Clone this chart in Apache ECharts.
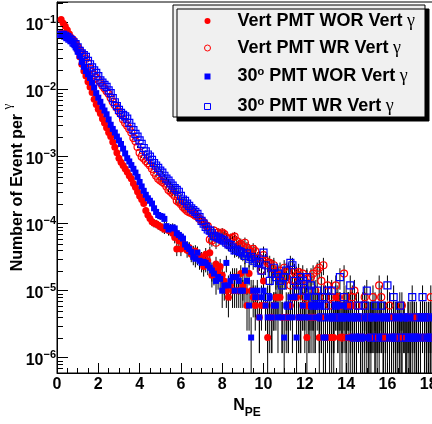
<!DOCTYPE html>
<html><head><meta charset="utf-8">
<style>html,body{margin:0;padding:0;background:#fff}#c{width:432px;height:424px}</style>
<script src="https://cdn.jsdelivr.net/npm/echarts@6/dist/echarts.min.js"></script>
</head><body><div id="c"></div>
<script>
// ---------------- data ----------------
const seriesNames = ['Vert PMT WOR Vert γ', 'Vert PMT WR Vert γ', '30° PMT WOR Vert γ', '30° PMT WR Vert γ'];
const binStart = 0.2, binWidth = 0.1;     // histogram bin centres (N_PE)
const oneEvent = 2e-6;                    // value of a single-count bin (lowest quantised level)
const xTicks = [0, 2, 4, 6, 8, 10, 12, 14, 16, 18];
const yTickExponents = [-6, -5, -4, -3, -2, -1];
const yMinorTicks = [6e-7, 7e-7, 8e-7, 9e-7,
  2e-6, 3e-6, 4e-6, 5e-6, 6e-6, 7e-6, 8e-6, 9e-6,
  2e-5, 3e-5, 4e-5, 5e-5, 6e-5, 7e-5, 8e-5, 9e-5,
  2e-4, 3e-4, 4e-4, 5e-4, 6e-4, 7e-4, 8e-4, 9e-4,
  2e-3, 3e-3, 4e-3, 5e-3, 6e-3, 7e-3, 8e-3, 9e-3,
  2e-2, 3e-2, 4e-2, 5e-2, 6e-2, 7e-2, 8e-2, 9e-2, 2e-1];

// Vert PMT WOR Vert gamma (red filled circles), bins 0.2 ... 18.1
const vertWOR = [
  0.112, 0.098, 0.089, 0.078, 0.068, 0.059, 0.052, 0.046, 0.039, 0.031,
  0.024, 0.019, 0.016, 0.0132, 0.011, 0.0091, 0.0072, 0.0060, 0.0051, 0.0044,
  0.0037, 0.0032, 0.0027, 0.0023, 0.0020, 0.00166, 0.00138, 0.00115, 0.00095, 0.00083,
  0.00074, 0.00066, 0.00059, 0.00052, 0.00047, 0.00040, 0.00035, 0.00030, 0.00026, 0.00023,
  0.00020, 0.000158, 0.000135, 0.000120, 0.000107, 0.000102, 0.000100, 0.000095, 0.000091, 0.000087,
  0.000083, 0.000089, 0.000079, 0.000078, 0.000072, 0.000062, 0.000042, 0.000055, 0.000042, 0.000050,
  4.7e-5, 4.0e-5, 4.4e-5, 3.5e-5, 3.8e-5, 3.9e-5, 3.2e-5, 3.3e-5, 3.0e-5, 2.3e-5,
  3.5e-5, 2.8e-5, 3.7e-5, 1.7e-5, 2.0e-5, 2.5e-5, 2.0e-5, 2.3e-5, 1.7e-5, 1.4e-5,
  1.0e-5, 8e-6, 1.2e-5, 1.0e-5, 1.6e-5, 1.0e-5, 1.0e-5, 1.8e-5, 1.2e-5, 1.0e-5,
  6e-6, 1.8e-5, 1.0e-5, 8e-6, 6e-6, 8e-6, 4e-6, 6e-6, 1.4e-5, 6e-6,
  2e-6, 4e-6, 4e-6, 6e-6, 8e-6, 8e-6, 8e-6, 4e-6, null, 4e-6,
  4e-6, 6e-6, 8e-6, 8e-6, 8e-6, 4e-6, 4e-6, 6e-6, 6e-6, 2e-6,
  4e-6, 4e-6, 4e-6, 4e-6, null, 2e-6, 4e-6, null, 2e-6, null,
  2e-6, 2e-6, 2e-6, 8e-6, 4e-6, 2e-6, null, 4e-6, 2e-6, 6e-6,
  6e-6, 6e-6, 2e-6, 2e-6, 4e-6, 2e-6, null, 2e-6, 4e-6, 4e-6,
  4e-6, 4e-6, 2e-6, null, 4e-6, 4e-6, 2e-6, null, 2e-6, 2e-6,
  4e-6, 4e-6, null, 2e-6, 2e-6, 2e-6, 4e-6, 2e-6, null, 2e-6,
  4e-6, 4e-6, 2e-6, null, 2e-6, 4e-6, 2e-6, null, 4e-6, 2e-6
];
// Vert PMT WR Vert gamma (red open circles)
const vertWR = [
  0.068, 0.067, 0.065, 0.063, 0.061, 0.058, 0.054, 0.048, 0.043, 0.039,
  0.035, 0.032, 0.029, 0.025, 0.021, 0.0185, 0.0166, 0.0150, 0.0140, 0.0128,
  0.0115, 0.0105, 0.0095, 0.0087, 0.0076, 0.0066, 0.0059, 0.0054, 0.0047, 0.0043,
  0.0036, 0.0032, 0.0029, 0.0026, 0.0023, 0.0019, 0.0017, 0.0014, 0.00115, 0.00100,
  0.00094, 0.00086, 0.00080, 0.00074, 0.00066, 0.00058, 0.00052, 0.00047, 0.00044, 0.00042,
  0.00040, 0.00036, 0.00032, 0.00030, 0.00028, 0.00026, 0.00022, 0.00021, 0.000195, 0.000178,
  0.000166, 0.000155, 0.000148, 0.000145, 0.000138, 0.000132, 0.000128, 0.000118, 0.000112, 0.000105,
  0.000095, 0.000092, 0.000058, 0.000056, 0.000079, 0.000052, 0.000074, 0.000070, 0.000074, 0.000070,
  6.2e-5, 4.9e-5, 6.0e-5, 6.2e-5, 6.4e-5, 5.5e-5, 4.8e-5, 5.0e-5, 4.6e-5, 5.2e-5,
  4.4e-5, 4.0e-5, 3.8e-5, 4.2e-5, 3.9e-5, 3.0e-5, 3.1e-5, 2.0e-5, 3.4e-5, 2.8e-5,
  2.6e-5, 2.6e-5, 2.2e-5, 2.4e-5, 1.8e-5, 1.7e-5, 2.0e-5, 1.4e-5, 2.2e-5, 1.6e-5,
  2.0e-5, 1.2e-5, 1.4e-5, 1.9e-5, 1.7e-5, 1.9e-5, 1.2e-5, 1.8e-5, 8e-6, 1.5e-5,
  6e-6, 1.6e-5, 1.8e-5, 1.0e-5, 2.0e-5, 2.2e-5, 1.4e-5, 2.4e-5, 8e-6, 1.2e-5,
  6e-6, 8e-6, 4e-6, 1.2e-5, 8e-6, 6e-6, 2e-6, 1.8e-5, 8e-6, 6e-6,
  2e-6, 8e-6, 1.0e-5, 6e-6, 4e-6, 2e-6, 6e-6, 8e-6, 4e-6, 2e-6,
  4e-6, 8e-6, 2e-6, 4e-6, 1.2e-5, 8e-6, 2e-6, 2e-6, 4e-6, 6e-6,
  2e-6, 4e-6, 2e-6, 4e-6, 2e-6, 6e-6, null, 2e-6, 4e-6, 2e-6,
  null, 4e-6, 2e-6, 2e-6, 4e-6, null, 2e-6, 4e-6, 2e-6, 8e-6
];
// 30 deg PMT WOR Vert gamma (blue filled squares)
const deg30WOR = [
  0.066, 0.065, 0.063, 0.060, 0.057, 0.053, 0.048, 0.043, 0.037, 0.032,
  0.026, 0.022, 0.019, 0.017, 0.0150, 0.0128, 0.0108, 0.0089, 0.0076, 0.0066,
  0.0056, 0.0049, 0.0043, 0.0036, 0.0030, 0.0026, 0.0023, 0.0020, 0.00175, 0.00155,
  0.00132, 0.00112, 0.00095, 0.00085, 0.00075, 0.00066, 0.00058, 0.00050, 0.00042, 0.00036,
  0.00031, 0.00027, 0.00024, 0.00022, 0.00020, 0.000170, 0.000150, 0.000135, 0.000130, 0.000128,
  0.000118, 0.000092, 0.000082, 0.000086, 0.000088, 0.000085, 0.000072, 0.000068, 0.000064, 0.000060,
  4.9e-5, 4.5e-5, 4.2e-5, 3.8e-5, 3.2e-5, 3.0e-5, 3.7e-5, 2.8e-5, 2.6e-5, 2.7e-5,
  2.6e-5, 2.4e-5, 2.2e-5, 2.0e-5, 1.8e-5, 1.4e-5, 1.6e-5, 1.5e-5, 1.0e-5, 1.2e-5,
  2.6e-5, 1.2e-5, 1.4e-5, 1.6e-5, 1.0e-5, 1.6e-5, 1.4e-5, 1.0e-5, 1.0e-5, 2.0e-5,
  1.4e-5, 6e-6, 2e-6, 1.0e-5, 8e-6, 1.0e-5, 4e-6, 8e-6, 1.0e-5, 6e-6,
  4e-6, 8e-6, 4e-6, 6e-6, 6e-6, 4e-6, null, 4e-6, 2e-6, 6e-6,
  4e-6, 8e-6, 4e-6, 8e-6, 2e-6, 4e-6, 4e-6, 6e-6, 4e-6, 8e-6,
  4e-6, 6e-6, 6e-6, 4e-6, 6e-6, 4e-6, 6e-6, 2e-6, 2e-6, 4e-6,
  null, 4e-6, 4e-6, 6e-6, 6e-6, 6e-6, 4e-6, 6e-6, 4e-6, 2e-6,
  4e-6, 2e-6, 4e-6, 2e-6, 4e-6, 2e-6, 2e-6, 4e-6, 2e-6, 2e-6,
  4e-6, null, 4e-6, 4e-6, 2e-6, 4e-6, 4e-6, 4e-6, 4e-6, 2e-6,
  null, 2e-6, 4e-6, 4e-6, 4e-6, null, 4e-6, null, 2e-6, 4e-6,
  2e-6, null, 2e-6, 2e-6, 4e-6, null, 4e-6, 2e-6, 2e-6, 4e-6
];
// 30 deg PMT WR Vert gamma (blue open squares)
const deg30WR = [
  0.066, 0.066, 0.064, 0.061, 0.058, 0.055, 0.051, 0.048, 0.043, 0.038,
  0.035, 0.033, 0.031, 0.027, 0.024, 0.0215, 0.0195, 0.0178, 0.0160, 0.0138,
  0.0128, 0.0118, 0.0110, 0.0098, 0.0089, 0.0075, 0.0065, 0.0057, 0.0050, 0.0045,
  0.0042, 0.0040, 0.0037, 0.0032, 0.0028, 0.0025, 0.0022, 0.0020, 0.00175, 0.00155,
  0.00135, 0.00120, 0.00108, 0.00100, 0.00090, 0.00080, 0.00074, 0.00068, 0.00062, 0.00058,
  0.00052, 0.00047, 0.00044, 0.00040, 0.00037, 0.00034, 0.00032, 0.00030, 0.00026, 0.00023,
  0.00022, 0.00020, 0.000185, 0.000170, 0.000160, 0.000150, 0.000140, 0.000125, 0.000110, 0.000100,
  9.0e-5, 8.2e-5, 7.9e-5, 7.2e-5, 6.6e-5, 6.4e-5, 6.2e-5, 6.0e-5, 5.8e-5, 5.6e-5,
  5.2e-5, 4.9e-5, 4.8e-5, 4.4e-5, 4.0e-5, 4.1e-5, 3.9e-5, 3.8e-5, 3.6e-5, 3.3e-5,
  3.6e-5, 3.0e-5, 3.2e-5, 2.8e-5, 3.0e-5, 2.6e-5, 2.7e-5, 2.0e-5, 3.7e-5, 2.4e-5,
  8e-6, 1.4e-5, 1.8e-5, 2.2e-5, 1.6e-5, 1.8e-5, 1.4e-5, 1.2e-5, 1.6e-5, 2.0e-5,
  6e-6, 2.6e-5, 2.4e-5, 1.4e-5, 1.0e-5, 1.2e-5, 1.6e-5, 1.4e-5, 1.0e-5, 1.6e-5,
  1.0e-5, 1.2e-5, 6e-6, 8e-6, 1.0e-5, 6e-6, 4e-6, 8e-6, 6e-6, 1.0e-5,
  4e-6, 1.0e-5, 4e-6, 6e-6, 4e-6, 1.6e-5, 4e-6, 8e-6, 4e-6, 6e-6,
  1.2e-5, 4e-6, 2e-6, 4e-6, 6e-6, 2e-6, 4e-6, 6e-6, 1.0e-5, 4e-6,
  2e-6, 4e-6, 6e-6, 2e-6, 4e-6, 6e-6, 2e-6, 4e-6, 1.2e-5, 4e-6,
  2e-6, 8e-6, 2e-6, 4e-6, 6e-6, 2e-6, 4e-6, 2e-6, 4e-6, 2e-6,
  8e-6, 2e-6, 4e-6, 2e-6, 4e-6, 8e-6, 4e-6, 2e-6, 4e-6, 2e-6
];

// ---------------- chart ----------------
const FONT = 'Liberation Sans, Arial, Helvetica, sans-serif';
const SERIF = 'Liberation Serif, Times New Roman, serif';
const yMin = 5.91e-7, yMax = 0.204;
const nPE = vertWOR.map((_, i) => +(binStart + i * binWidth).toFixed(1));

const styles = [
  { values: vertWOR, symbol: 'circle', size: 7, fill: '#ff0000', stroke: '#ff0000', open: false },
  { values: vertWR, symbol: 'circle', size: 7, fill: 'rgba(0,0,0,0)', stroke: '#ff0000', open: true },
  { values: deg30WOR, symbol: 'rect', size: 6, fill: '#0000ff', stroke: '#0000ff', open: false },
  { values: deg30WR, symbol: 'rect', size: 7, fill: 'rgba(0,0,0,0)', stroke: '#0000ff', open: true }
];

const series = [];
styles.forEach((s, k) => {
  const pts = [], errs = [];
  s.values.forEach((v, i) => {
    if (v == null) return;
    const sigma = Math.sqrt(v * oneEvent);  // Poisson error: v / sqrt(N)
    pts.push([nPE[i], v]);
    errs.push([nPE[i], v, v - sigma, v + sigma]);
  });
  series.push({
    type: 'custom', name: seriesNames[k] + ' err', silent: true, clip: true,
    encode: { x: 0, y: 1 },
    renderItem: function (params, api) {
      const x = api.value(0), lo = api.value(2), hi = api.value(3);
      const cs = params.coordSys;
      const pt = api.coord([x, Math.min(hi, yMax)]);
      const yb = lo > yMin ? api.coord([x, lo])[1] : cs.y + cs.height;
      return { type: 'line', shape: { x1: pt[0], y1: pt[1], x2: pt[0], y2: yb },
               style: { stroke: '#000', lineWidth: 1 } };
    },
    data: errs, z: 2
  });
  series.push({
    type: 'scatter', name: seriesNames[k], data: pts, symbol: s.symbol, symbolSize: s.size,
    itemStyle: { color: s.fill, borderColor: s.stroke, borderWidth: s.open ? 1.2 : 0, opacity: 1 },
    emphasis: { disabled: true }, silent: true, clip: true, z: 3
  });
});
// minor ticks of the log axis
series.push({
  type: 'custom', silent: true, clip: false, z: 5,
  encode: { x: 0, y: 1 },
  data: yMinorTicks.map(v => [0, v]),
  renderItem: function (params, api) {
    const p = api.coord([0, api.value(1)]);
    const y = Math.round(p[1]) + 0.5;
    return { type: 'line', shape: { x1: p[0], y1: y, x2: p[0] + 6, y2: y }, style: { stroke: '#000', lineWidth: 1 } };
  }
});

const legendRich = {
  p: { width: 22, fontSize: 18, lineHeight: 20 },
  t: { fontFamily: FONT, fontSize: 18, fontWeight: 'bold', color: '#000', lineHeight: 20 },
  o: { fontFamily: FONT, fontSize: 11, fontWeight: 'bold', color: '#000', lineHeight: 12, padding: [0, 0, 10, 0] },
  g: { fontFamily: SERIF, fontSize: 18, color: '#000', lineHeight: 20 }
};
function legendText(name) {
  const m = name.match(/^30° (.*) γ$/);
  if (m) return '{p| }{t|30}{o|o}{t| ' + m[1] + '}{g| γ}';
  return '{p| }{t|' + name.replace(/ γ$/, '') + '}{g| γ}';
}

const chart = echarts.init(document.getElementById('c'), null, { renderer: 'canvas' });
chart.setOption({
  animation: false,
  backgroundColor: '#fff',
  grid: { left: 57, right: -5, top: 2, bottom: 51, show: true, borderColor: '#000', borderWidth: 1,
          backgroundColor: 'transparent', containLabel: false, outerBoundsMode: 'none' },
  legend: {
    left: 173, top: 5, orient: 'vertical', selectedMode: false,
    itemWidth: 6, itemHeight: 6, itemGap: 9, padding: [7, 10, 0, 31],
    backgroundColor: '#f0f0f0', borderColor: '#000', borderWidth: 1, borderRadius: 0,
    shadowColor: '#000', shadowOffsetX: 4, shadowOffsetY: 4, shadowBlur: 0,
    data: seriesNames.map((n, k) => ({
      name: n, icon: styles[k].symbol,
      itemStyle: { color: styles[k].fill, borderColor: styles[k].stroke, borderWidth: styles[k].open ? 1 : 0 }
    })),
    formatter: legendText,
    textStyle: { rich: legendRich }
  },
  xAxis: {
    type: 'value', min: 0, max: 18.4, interval: 2,
    axisLine: { show: true, lineStyle: { color: '#000', width: 1 } },
    axisTick: { show: true, inside: true, length: 10, lineStyle: { color: '#000' } },
    minorTick: { show: true, splitNumber: 4, length: 5, lineStyle: { color: '#000' } },
    splitLine: { show: false }, minorSplitLine: { show: false },
    axisLabel: {
      margin: 4, color: '#000', fontFamily: FONT, fontSize: 16, fontWeight: 'bold',
      formatter: v => (xTicks.indexOf(Math.round(v * 1000) / 1000) >= 0 ? String(Math.round(v)) : '')
    },
    name: '{n|N}{s|PE}', nameLocation: 'middle', nameGap: 24, nameMoveOverlap: false,
    nameTextStyle: { rich: {
      n: { fontFamily: FONT, fontSize: 16, fontWeight: 'bold', color: '#000', lineHeight: 18 },
      s: { fontFamily: FONT, fontSize: 12, fontWeight: 'bold', color: '#000', lineHeight: 12, padding: [13, 0, 0, 0] }
    } }
  },
  yAxis: {
    type: 'log', logBase: 10, min: yMin, max: yMax,
    axisLine: { show: true, lineStyle: { color: '#000', width: 1 } },
    axisTick: { show: true, inside: true, length: 11, lineStyle: { color: '#000' } },
    splitLine: { show: false },
    axisLabel: {
      margin: 1, align: 'right',
      formatter: function (v) {
        const e = Math.round(Math.log10(v));
        if (Math.abs(Math.log10(v) - e) > 1e-6 || yTickExponents.indexOf(e) < 0) return '';
        return '{b|10}{s|\u2212' + (-e) + '}';
      },
      rich: {
        b: { fontFamily: FONT, fontSize: 16, fontWeight: 'bold', color: '#000', lineHeight: 18, padding: [6, 0, 0, 0] },
        s: { fontFamily: FONT, fontSize: 11, fontWeight: 'bold', color: '#000', lineHeight: 12, padding: [0, 0, 6, 0] }
      }
    },
    name: '{t|Number of Event per }{g|γ}', nameLocation: 'middle', nameGap: 30, nameMoveOverlap: false,
    nameTextStyle: { rich: {
      t: { fontFamily: FONT, fontSize: 16, fontWeight: 'bold', color: '#000', lineHeight: 18 },
      g: { fontFamily: SERIF, fontSize: 13, color: '#000', lineHeight: 14, padding: [0, 0, 20, 0] }
    } }
  },
  series: series
});
</script></body></html>
